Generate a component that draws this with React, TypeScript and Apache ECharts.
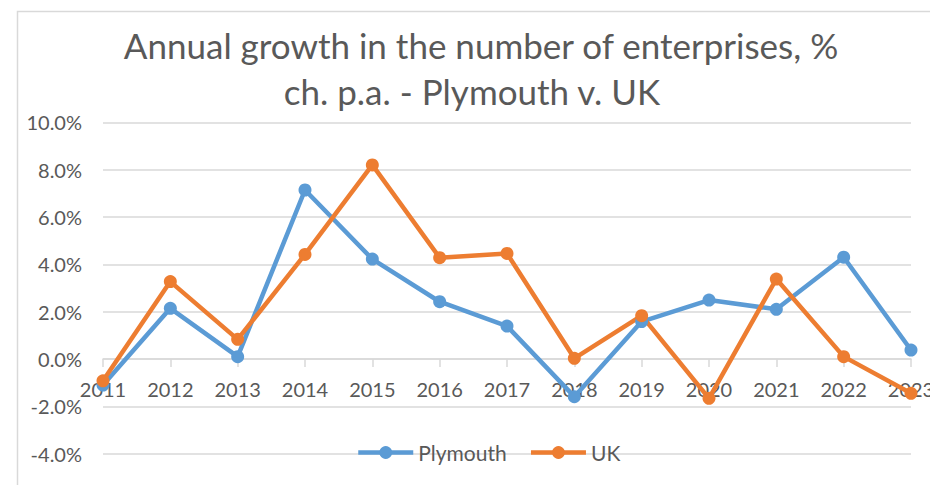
import React, { useEffect, useRef } from "react";
import * as echarts from "echarts";

const years = ["2011", "2012", "2013", "2014", "2015", "2016", "2017", "2018", "2019", "2020", "2021", "2022", "2023"];
const plymouth = [-1.1, 2.14, 0.1, 7.14, 4.22, 2.42, 1.39, -1.59, 1.58, 2.49, 2.1, 4.3, 0.38];
const uk = [-0.92, 3.27, 0.83, 4.42, 8.2, 4.28, 4.46, 0.03, 1.83, -1.66, 3.38, 0.1, -1.45];
const titleLine1 = "Annual growth in the number of enterprises, %";
const titleLine2 = "ch. p.a. - Plymouth v. UK";

const FONT = "Lato, 'Noto Sans', sans-serif";
const TEXT = "#595959";
const GRID = "#D9D9D9";

export default function App() {
  const ref = useRef<HTMLDivElement>(null);
  useEffect(() => {
    if (!ref.current) return;
    const chart = echarts.init(ref.current, null, { renderer: "svg" });
    chart.setOption({
      animation: false,
      backgroundColor: "#ffffff",
      textStyle: { fontFamily: FONT },
      title: [
        {
          text: titleLine1,
          left: 476,
          top: 22,
          textAlign: "center",
          textStyle: { fontFamily: FONT, fontSize: 35, fontWeight: "normal", color: TEXT },
        },
        {
          text: titleLine2,
          left: 467,
          top: 68,
          textAlign: "center",
          textStyle: { fontFamily: FONT, fontSize: 35, fontWeight: "normal", color: TEXT },
        },
      ],
      graphic: [
        {
          type: "rect",
          shape: { x: 17.5, y: 11.5, width: 1000, height: 600 },
          style: { fill: "none", stroke: GRID, lineWidth: 1.5 },
          silent: true,
        },
      ],
      legend: {
        left: 351,
        top: 437,
        itemWidth: 55,
        itemHeight: 16,
        itemGap: 22,
        lineStyle: { width: 4.5 },
        textStyle: { fontFamily: FONT, fontSize: 21, color: TEXT },
        data: ["Plymouth", "UK"],
      },
      grid: { left: 103, right: 19, top: 122.3, bottom: 31.3, containLabel: false, outerBoundsMode: "none" },
      xAxis: {
        type: "category",
        data: years,
        boundaryGap: false,
        position: "bottom",
        offset: -94.67,
        axisLine: { show: true, onZero: false, lineStyle: { color: GRID, width: 1.5 } },
        axisTick: { show: true, length: 8, lineStyle: { color: GRID, width: 1.5 } },
        axisLabel: { margin: 20, fontFamily: FONT, fontSize: 20, color: TEXT, interval: 0 },
        splitLine: { show: false },
      },
      yAxis: {
        type: "value",
        min: -4,
        max: 10,
        interval: 2,
        axisLine: { show: false },
        axisTick: { show: false },
        axisLabel: {
          margin: 21,
          fontFamily: FONT,
          fontSize: 20,
          color: TEXT,
          formatter: (v: number) => v.toFixed(1) + "%",
        },
        splitLine: { show: true, lineStyle: { color: GRID, width: 1.5 } },
      },
      series: [
        {
          name: "Plymouth",
          type: "line",
          data: plymouth,
          symbol: "circle",
          symbolSize: 13,
          lineStyle: { color: "#5B9BD5", width: 4.5 },
          itemStyle: { color: "#5B9BD5" },
        },
        {
          name: "UK",
          type: "line",
          data: uk,
          symbol: "circle",
          symbolSize: 13,
          lineStyle: { color: "#ED7D31", width: 4.5 },
          itemStyle: { color: "#ED7D31" },
        },
      ],
    });
    return () => chart.dispose();
  }, []);
  return (
    <div
      ref={ref}
      style={{ position: "fixed", left: 0, top: 0, width: 930, height: 485, background: "#fff" }}
    />
  );
}
